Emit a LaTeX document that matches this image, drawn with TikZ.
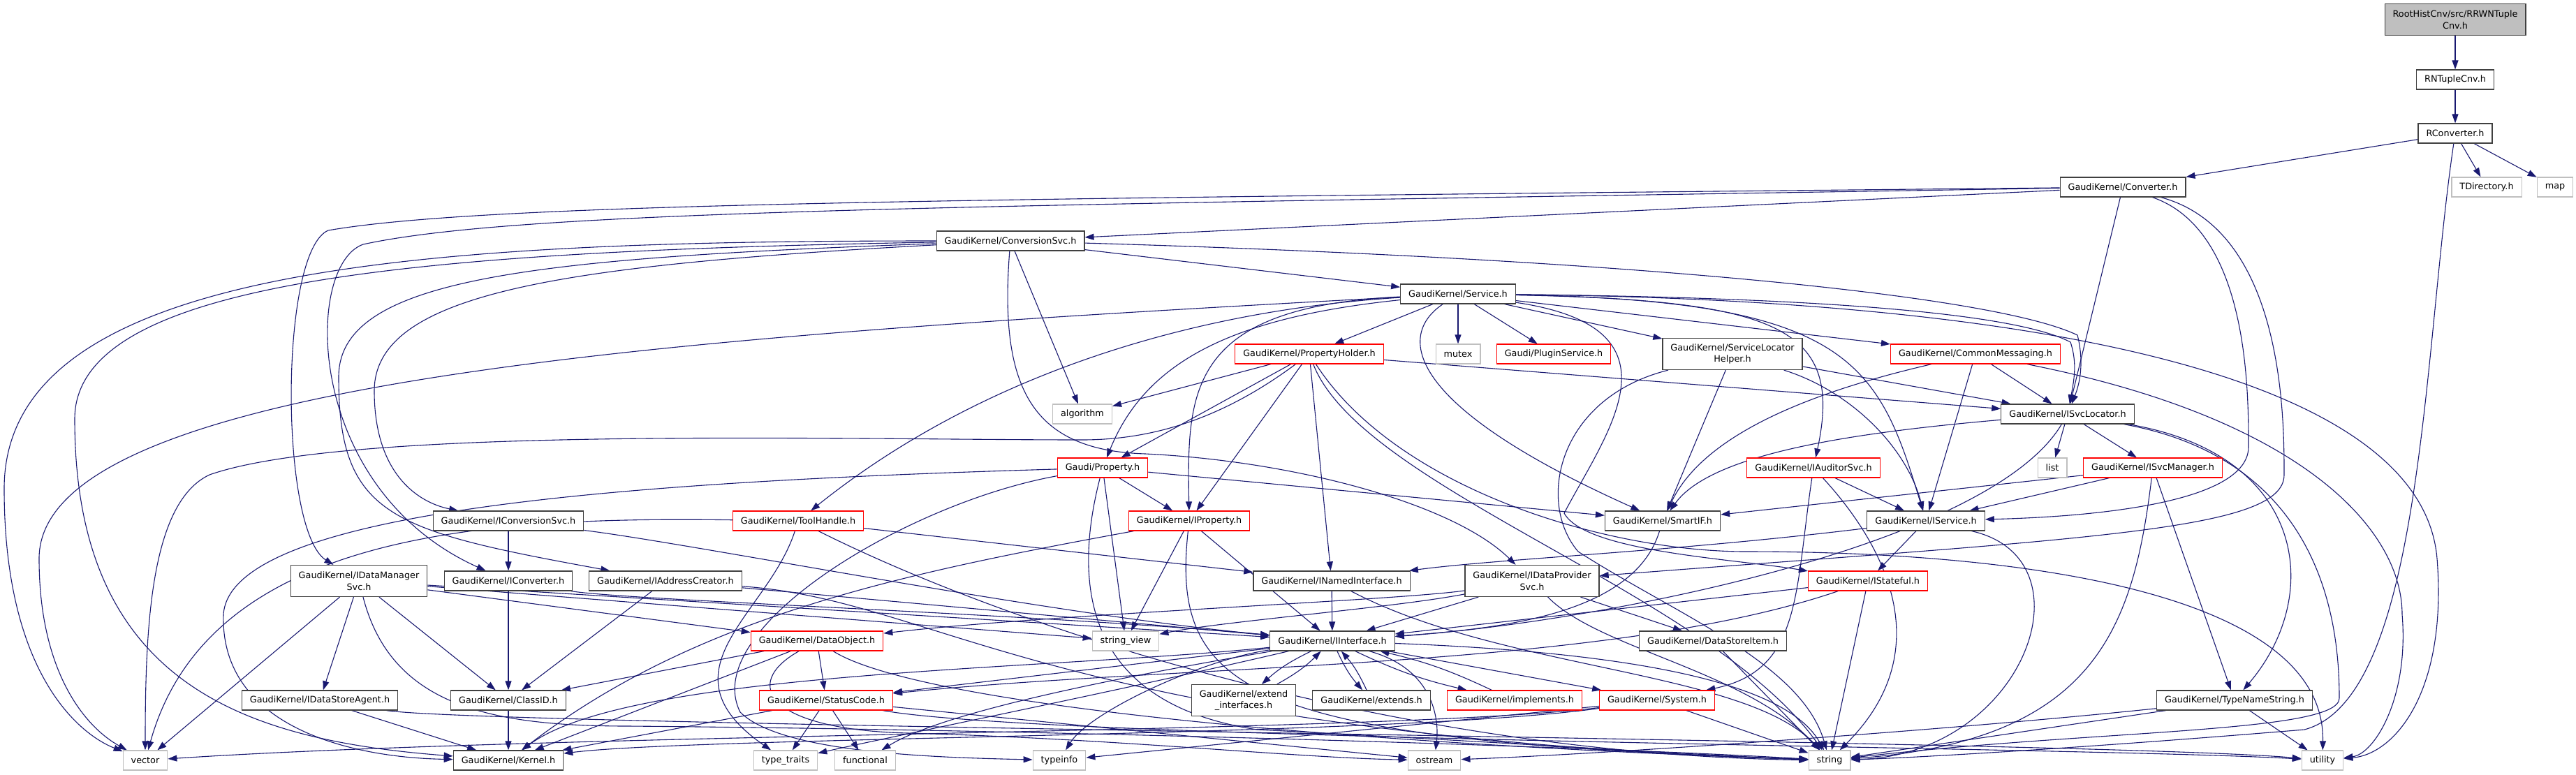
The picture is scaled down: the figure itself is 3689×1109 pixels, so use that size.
\documentclass[tikz,border=0pt]{standalone}
\usepackage{fontspec}
\setmainfont{DejaVu Sans}
\usetikzlibrary{arrows.meta}
\definecolor{edgenavy}{RGB}{25, 25, 112}
\definecolor{nodegrey}{RGB}{64, 64, 64}
\definecolor{truncred}{RGB}{255, 0, 0}
\definecolor{extgrey}{RGB}{191, 191, 191}
\pgfdeclarelayer{background}
\pgfsetlayers{background,main}

\begin{document}
\begin{tikzpicture}[x=1pt, y=-1pt,
  hdr/.style={draw=nodegrey, fill=white, line width=1.2pt, inner xsep=11.5pt, inner ysep=3pt,
    minimum height=28pt, align=center, font=\fontsize{12.8}{16.7}\selectfont},
  hdrtwo/.style={hdr, minimum height=45pt},
  hdrred/.style={hdr, draw=truncred},
  hdrext/.style={hdr, draw=extgrey},
  hdrroot/.style={hdrtwo, fill=extgrey},
  dep/.style={draw=edgenavy, line width=1.1pt, -{Triangle[length=13pt, width=9pt]}}]
  \useasboundingbox (0,0) rectangle (3689,1109);

  % top of the chain
  \node[hdrroot] (rrwntuple) at (3516, 28) {RootHistCnv/src/RRWNTuple\\Cnv.h};
  \node[hdr] (rntuplecnv) at (3516, 114) {RNTupleCnv.h};
  \node[hdr] (rconverter) at (3516, 191) {RConverter.h};
  \node[hdr] (converter) at (3040, 268) {GaudiKernel/Converter.h};
  \node[hdrext] (tdirectory) at (3561, 268) {TDirectory.h};
  \node[hdrext] (map) at (3659, 268) {map};
  \node[hdr] (conversionsvc) at (1447, 345) {GaudiKernel/ConversionSvc.h};
  \node[hdr] (service) at (2088, 421) {GaudiKernel/Service.h};

  % service level
  \node[hdrred] (propertyholder) at (1875, 507) {GaudiKernel/PropertyHolder.h};
  \node[hdrext] (mutex) at (2088, 507) {mutex};
  \node[hdrred] (pluginservice) at (2225, 507) {Gaudi/PluginService.h};
  \node[hdrtwo] (slhelper) at (2481, 507) {GaudiKernel/ServiceLocator\\Helper.h};
  \node[hdrred] (commonmsg) at (2829, 507) {GaudiKernel/CommonMessaging.h};
  \node[hdrext] (algorithm) at (1550, 593) {algorithm};
  \node[hdr] (isvclocator) at (2961, 593) {GaudiKernel/ISvcLocator.h};
  \node[hdrred] (property) at (1579, 670) {Gaudi/Property.h};
  \node[hdrred] (iauditorsvc) at (2597, 670) {GaudiKernel/IAuditorSvc.h};
  \node[hdrext] (list) at (2939, 670) {list};
  \node[hdrred] (isvcmanager) at (3083, 670) {GaudiKernel/ISvcManager.h};

  % interfaces
  \node[hdr] (iconversionsvc) at (728, 746) {GaudiKernel/IConversionSvc.h};
  \node[hdrred] (toolhandle) at (1143, 746) {GaudiKernel/ToolHandle.h};
  \node[hdrred] (iproperty) at (1703, 746) {GaudiKernel/IProperty.h};
  \node[hdr] (smartif) at (2381, 746) {GaudiKernel/SmartIF.h};
  \node[hdr] (iservice) at (2758, 746) {GaudiKernel/IService.h};
  \node[hdrtwo] (idatamanagersvc) at (514, 832) {GaudiKernel/IDataManager\\Svc.h};
  \node[hdr] (iconverter) at (728, 832) {GaudiKernel/IConverter.h};
  \node[hdr] (iaddresscreator) at (953, 832) {GaudiKernel/IAddressCreator.h};
  \node[hdr] (inamedinterface) at (1907, 832) {GaudiKernel/INamedInterface.h};
  \node[hdrtwo] (idataprovidersvc) at (2194, 832) {GaudiKernel/IDataProvider\\Svc.h};
  \node[hdrred] (istateful) at (2675, 832) {GaudiKernel/IStateful.h};
  \node[hdrred] (dataobject) at (1170, 918) {GaudiKernel/DataObject.h};
  \node[hdrext] (stringview) at (1612, 918) {string\_view};
  \node[hdr] (iinterface) at (1908, 918) {GaudiKernel/IInterface.h};
  \node[hdr] (datastoreitem) at (2453, 918) {GaudiKernel/DataStoreItem.h};
  \node[hdr] (idatastoreagent) at (458, 1003) {GaudiKernel/IDataStoreAgent.h};
  \node[hdr] (classid) at (728, 1003) {GaudiKernel/ClassID.h};
  \node[hdrred] (statuscode) at (1183, 1003) {GaudiKernel/StatusCode.h};
  \node[hdrtwo] (extendinterfaces) at (1781, 1003) {GaudiKernel/extend\\\_interfaces.h};
  \node[hdr] (extends) at (1964, 1003) {GaudiKernel/extends.h};
  \node[hdrred] (implements) at (2169, 1003) {GaudiKernel/implements.h};
  \node[hdrred] (system) at (2373, 1003) {GaudiKernel/System.h};
  \node[hdr] (typenamestring) at (3200, 1003) {GaudiKernel/TypeNameString.h};

  % system headers
  \node[hdrext] (vector) at (208, 1089) {vector};
  \node[hdr] (kernel) at (728, 1089) {GaudiKernel/Kernel.h};
  \node[hdrext] (typetraits) at (1125, 1089) {type\_traits};
  \node[hdrext] (functional) at (1239, 1089) {functional};
  \node[hdrext] (typeinfo) at (1517, 1089) {typeinfo};
  \node[hdrext] (ostream) at (2054, 1089) {ostream};
  \node[hdrext] (string) at (2620, 1089) {string};
  \node[hdrext] (utility) at (3326, 1089) {utility};

  \begin{pgfonlayer}{background}
  % chain
  \draw[dep] (rrwntuple) -- (rntuplecnv);
  \draw[dep] (rntuplecnv) -- (rconverter);
  \draw[dep] (rconverter) -- (converter);
  \draw[dep] (rconverter) -- (tdirectory);
  \draw[dep] (rconverter) -- (map);
  \draw[dep] (rconverter) .. controls (3470,500) and (3470,1000) .. (3300,1045) .. controls (3000,1070) and (2750,1085) .. (string);

  % Converter.h
  \draw[dep] (converter) -- (conversionsvc);
  \draw[dep] (converter) .. controls (1400,285) and (700,290) .. (470,330) .. controls (400,360) and (400,760) .. (idatamanagersvc);
  \draw[dep] (converter) .. controls (1400,295) and (750,300) .. (520,350) .. controls (435,380) and (435,700) .. (iconverter);
  \draw[dep] (converter) -- (isvclocator);
  \draw[dep] (converter) .. controls (3220,330) and (3220,560) .. (3220,640) .. controls (3220,720) and (3000,740) .. (iservice);
  \draw[dep] (converter) .. controls (3271,330) and (3271,600) .. (3271,680) .. controls (3271,760) and (3000,770) .. (idataprovidersvc);

  % ConversionSvc.h
  \draw[dep] (conversionsvc) -- (service);
  \draw[dep] (conversionsvc) .. controls (2300,370) and (2850,420) .. (2975,480) .. controls (2985,520) and (2978,550) .. (isvclocator);
  \draw[dep] (conversionsvc) .. controls (800,380) and (536,420) .. (536,560) .. controls (536,680) and (600,720) .. (iconversionsvc);
  \draw[dep] (conversionsvc) .. controls (750,370) and (485,400) .. (485,540) .. controls (485,740) and (560,760) .. (iaddresscreator);
  \draw[dep] (conversionsvc) -- (algorithm);
  \draw[dep] (conversionsvc) .. controls (600,345) and (6,380) .. (6,700) .. controls (6,960) and (110,1050) .. (vector);
  \draw[dep] (conversionsvc) .. controls (600,360) and (107,400) .. (107,600) .. controls (107,980) and (350,1060) .. (kernel);
  \draw[dep] (conversionsvc) .. controls (1430,560) and (1480,645) .. (1640,650) .. controls (1850,660) and (2080,720) .. (idataprovidersvc);

  % Service.h
  \draw[dep] (service) -- (propertyholder);
  \draw[dep] (service) -- (mutex);
  \draw[dep] (service) -- (pluginservice);
  \draw[dep] (service) -- (slhelper);
  \draw[dep] (service) -- (commonmsg);
  \draw[dep] (service) .. controls (2500,425) and (2870,440) .. (2965,490) .. controls (2975,520) and (2970,545) .. (isvclocator);
  \draw[dep] (service) .. controls (2550,430) and (2640,470) .. (iauditorsvc);
  \draw[dep] (service) .. controls (2650,430) and (2690,520) .. (iservice);
  \draw[dep] (service) .. controls (2000,480) and (2010,580) .. (smartif);
  \draw[dep] (service) .. controls (1760,455) and (1640,520) .. (property);
  \draw[dep] (service) .. controls (1700,440) and (1700,560) .. (iproperty);
  \draw[dep] (service) .. controls (1700,445) and (1400,540) .. (toolhandle);
  \draw[dep] (service) .. controls (1000,480) and (56,540) .. (56,800) .. controls (56,960) and (120,1040) .. (vector);
  \draw[dep] (service) .. controls (3000,430) and (3470,560) .. (3490,800) .. controls (3505,990) and (3430,1080) .. (utility);
  \draw[dep] (service) .. controls (2420,470) and (2300,620) .. (2240,735) .. controls (2270,790) and (2480,800) .. (istateful);

  % PropertyHolder.h
  \draw[dep] (propertyholder) -- (algorithm);
  \draw[dep] (propertyholder) -- (property);
  \draw[dep] (propertyholder) -- (iproperty);
  \draw[dep] (propertyholder) -- (isvclocator);
  \draw[dep] (propertyholder) -- (inamedinterface);
  \draw[dep] (propertyholder) .. controls (1750,600) and (1650,630) .. (1550,630) .. controls (1200,630) and (500,610) .. (300,680) .. controls (215,720) and (208,900) .. (vector);
  \draw[dep] (propertyholder) .. controls (1950,700) and (2450,850) .. (string);
  \draw[dep] (propertyholder) .. controls (2000,700) and (2300,790) .. (2500,790) .. controls (2900,790) and (3330,850) .. (utility);

  % Property.h
  \draw[dep] (property) .. controls (900,690) and (330,730) .. (320,880) .. controls (315,1040) and (500,1085) .. (kernel);
  \draw[dep] (property) -- (iproperty);
  \draw[dep] (property) -- (stringview);
  \draw[dep] (property) .. controls (1530,860) and (1570,1010) .. (1800,1045) .. controls (2100,1060) and (2400,1080) .. (string);
  \draw[dep] (property) -- (smartif);
  \draw[dep] (property) .. controls (1300,720) and (1000,900) .. (1060,1020) .. controls (1120,1080) and (1350,1085) .. (typeinfo);

  % ToolHandle.h and IProperty.h
  \draw[dep] (toolhandle) .. controls (700,740) and (300,760) .. (vector);
  \draw[dep] (toolhandle) -- (inamedinterface);
  \draw[dep] (toolhandle) .. controls (1100,880) and (940,960) .. (typetraits);
  \draw[dep] (toolhandle) .. controls (1450,900) and (2000,1080) .. (string);
  \draw[dep] (iproperty) -- (iinterface);
  \draw[dep] (iproperty) -- (stringview);
  \draw[dep] (iproperty) .. controls (1675,1000) and (1800,1060) .. (string);
  \draw[dep] (iproperty) .. controls (1300,820) and (1000,880) .. (kernel);

  % converters and data services
  \draw[dep] (iconversionsvc) -- (iconverter);
  \draw[dep] (iconversionsvc) .. controls (1000,780) and (1500,880) .. (iinterface);
  \draw[dep] (iconverter) -- (classid);
  \draw[dep] (iconverter) .. controls (900,860) and (1500,880) .. (iinterface);
  \draw[dep] (iaddresscreator) -- (classid);
  \draw[dep] (iaddresscreator) -- (iinterface);
  \draw[dep] (iaddresscreator) .. controls (1350,860) and (1500,1050) .. (string);
  \draw[dep] (idatamanagersvc) -- (vector);
  \draw[dep] (idatamanagersvc) -- (idatastoreagent);
  \draw[dep] (idatamanagersvc) -- (classid);
  \draw[dep] (idatamanagersvc) -- (dataobject);
  \draw[dep] (idatamanagersvc) -- (stringview);
  \draw[dep] (idatamanagersvc) -- (iinterface);
  \draw[dep] (idatamanagersvc) .. controls (560,1010) and (700,1040) .. (900,1040) .. controls (1500,1045) and (2300,1070) .. (string);
  \draw[dep] (idatastoreagent) -- (kernel);
  \draw[dep] (idatastoreagent) .. controls (700,1040) and (3000,1060) .. (utility);
  \draw[dep] (classid) -- (kernel);
  \draw[dep] (dataobject) -- (classid);
  \draw[dep] (dataobject) -- (statuscode);
  \draw[dep] (dataobject) -- (kernel);
  \draw[dep] (dataobject) .. controls (1300,1000) and (1800,1060) .. (string);
  \draw[dep] (dataobject) .. controls (1060,980) and (1100,1045) .. (1300,1050) .. controls (1600,1058) and (1850,1085) .. (ostream);
  \draw[dep] (statuscode) -- (typetraits);
  \draw[dep] (statuscode) -- (functional);
  \draw[dep] (statuscode) -- (kernel);
  \draw[dep] (statuscode) -- (ostream);
  \draw[dep] (statuscode) .. controls (1500,1060) and (3000,1070) .. (utility);

  % IInterface.h
  \draw[dep] (iinterface) to[bend right=8] (extendinterfaces);
  \draw[dep] (extendinterfaces) to[bend right=8] (iinterface);
  \draw[dep] (iinterface) to[bend right=8] (extends);
  \draw[dep] (extends) to[bend right=8] (iinterface);
  \draw[dep] (iinterface) to[bend right=6] (implements);
  \draw[dep] (implements) to[bend right=6] (iinterface);
  \draw[dep] (iinterface) -- (system);
  \draw[dep] (iinterface) .. controls (2350,935) and (2560,980) .. (string);
  \draw[dep] (iinterface) .. controls (2060,960) and (2060,1040) .. (ostream);
  \draw[dep] (iinterface) .. controls (1720,945) and (1560,1020) .. (typeinfo);
  \draw[dep] (iinterface) .. controls (1500,960) and (900,960) .. (kernel);
  \draw[dep] (iinterface) -- (statuscode);
  \draw[dep] (iinterface) .. controls (1600,990) and (1300,1050) .. (typetraits);
  \draw[dep] (iinterface) .. controls (1600,970) and (1350,1020) .. (functional);
  \draw[dep] (system) .. controls (2000,1055) and (1000,1055) .. (kernel);
  \draw[dep] (system) .. controls (2000,1050) and (800,1050) .. (vector);
  \draw[dep] (system) -- (typeinfo);
  \draw[dep] (system) -- (string);
  \draw[dep] (inamedinterface) -- (iinterface);
  \draw[dep] (inamedinterface) .. controls (2150,960) and (2500,960) .. (string);
  \draw[dep] (idataprovidersvc) -- (iinterface);
  \draw[dep] (idataprovidersvc) .. controls (2000,860) and (1500,880) .. (dataobject);
  \draw[dep] (idataprovidersvc) .. controls (2000,870) and (1750,890) .. (stringview);
  \draw[dep] (idataprovidersvc) -- (datastoreitem);
  \draw[dep] (idataprovidersvc) .. controls (2290,930) and (2500,960) .. (string);
  \draw[dep] (datastoreitem) -- (string);
  \draw[dep] (smartif) .. controls (2340,880) and (2150,900) .. (iinterface);

  % services and locator
  \draw[dep] (iservice) .. controls (2400,790) and (2150,800) .. (inamedinterface);
  \draw[dep] (iservice) -- (istateful);
  \draw[dep] (iservice) .. controls (3000,800) and (2900,1080) .. (string);
  \draw[dep] (istateful) -- (iinterface);
  \draw[dep] (istateful) .. controls (2300,960) and (1700,950) .. (statuscode);
  \draw[dep] (istateful) -- (string);
  \draw[dep] (iauditorsvc) -- (iservice);
  \draw[dep] (iauditorsvc) .. controls (2570,850) and (2580,960) .. (system);
  \draw[dep] (iauditorsvc) .. controls (2680,760) and (2790,920) .. (string);
  \draw[dep] (slhelper) -- (smartif);
  \draw[dep] (slhelper) -- (isvclocator);
  \draw[dep] (slhelper) .. controls (2650,560) and (2730,640) .. (iservice);
  \draw[dep] (slhelper) .. controls (2230,570) and (2200,720) .. (2260,790) .. controls (2400,880) and (2580,950) .. (string);
  \draw[dep] (commonmsg) -- (isvclocator);
  \draw[dep] (commonmsg) .. controls (2600,560) and (2440,620) .. (smartif);
  \draw[dep] (commonmsg) -- (iservice);
  \draw[dep] (commonmsg) .. controls (3300,600) and (3440,760) .. (3440,880) .. controls (3450,1000) and (3400,1080) .. (utility);
  \draw[dep] (isvclocator) -- (list);
  \draw[dep] (isvclocator) -- (isvcmanager);
  \draw[dep] (isvclocator) .. controls (2650,620) and (2450,650) .. (smartif);
  \draw[dep] (isvclocator) .. controls (2850,780) and (2300,890) .. (iinterface);
  \draw[dep] (isvclocator) .. controls (3300,650) and (3330,850) .. (typenamestring);
  \draw[dep] (isvclocator) .. controls (3330,660) and (3350,900) .. (3350,1000) .. controls (3350,1050) and (3000,1045) .. (string);
  \draw[dep] (isvcmanager) -- (iservice);
  \draw[dep] (isvcmanager) -- (smartif);
  \draw[dep] (isvcmanager) -- (typenamestring);
  \draw[dep] (isvcmanager) .. controls (3055,900) and (3000,1060) .. (string);
  \draw[dep] (typenamestring) -- (string);
  \draw[dep] (typenamestring) .. controls (2800,1045) and (2300,1080) .. (ostream);
  \draw[dep] (typenamestring) -- (utility);
  \end{pgfonlayer}
\end{tikzpicture}
\end{document}
